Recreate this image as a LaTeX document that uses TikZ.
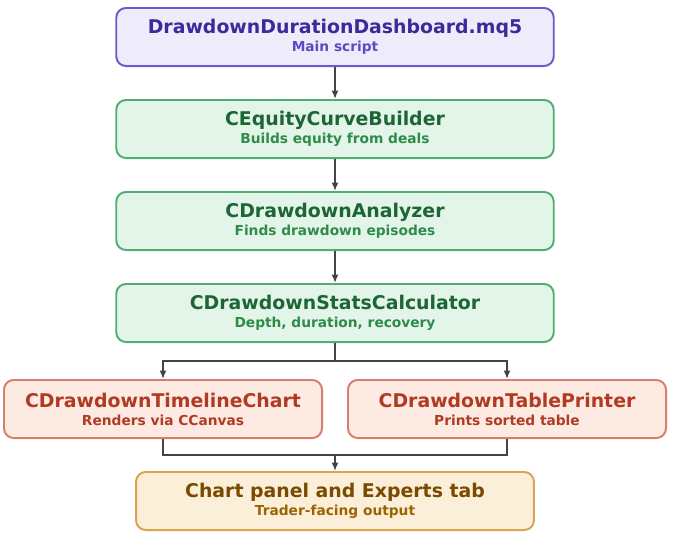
\documentclass[tikz,border=0pt]{standalone}
\usepackage{fontspec}
\setmainfont{DejaVu Sans}
\usetikzlibrary{arrows.meta,positioning,calc}
\definecolor{mainfill}{HTML}{EEEBFA}
\definecolor{maindraw}{HTML}{6A5ACD}
\definecolor{maintext}{HTML}{3A2A9A}
\definecolor{mainsub}{HTML}{5A4AC4}
\definecolor{corefill}{HTML}{E3F4E8}
\definecolor{coredraw}{HTML}{4FAF72}
\definecolor{coretext}{HTML}{1C6636}
\definecolor{coresub}{HTML}{2E8B4A}
\definecolor{outfill}{HTML}{FCEAE3}
\definecolor{outdraw}{HTML}{D97C68}
\definecolor{outtext}{HTML}{B03A22}
\definecolor{endfill}{HTML}{FCEFD9}
\definecolor{enddraw}{HTML}{D9A352}
\definecolor{endtext}{HTML}{7A4A00}
\definecolor{endsub}{HTML}{9A6400}
\definecolor{link}{HTML}{444444}
\tikzset{
  box/.style={draw, rounded corners=7pt, line width=1.4pt, minimum height=41.8pt, align=center, inner sep=0pt},
  mainbox/.style={box, fill=mainfill, draw=maindraw, minimum width=315pt},
  corebox/.style={box, fill=corefill, draw=coredraw, minimum width=315pt},
  outbox/.style={box, fill=outfill, draw=outdraw, minimum width=229pt},
  endbox/.style={box, fill=endfill, draw=enddraw, minimum width=286.5pt},
  arr/.style={draw=link, line width=1.4pt, -{Latex[length=6pt,width=5pt]}},
  ln/.style={draw=link, line width=1.4pt}
}
\newcommand{\boxtext}[4]{{\fontsize{13.6}{15}\selectfont\bfseries\color{#1}#3}\\[1pt]{\fontsize{9.9}{11}\selectfont\bfseries\color{#2}#4}}
\begin{document}
\begin{tikzpicture}[x=0.72pt,y=-0.72pt]
  \useasboundingbox (0,0) rectangle (675,537);
  % Pipeline
  \node[mainbox] (dash) at (335,37) {\boxtext{maintext}{mainsub}{DrawdownDurationDashboard.mq5}{Main script}};
  \node[corebox] (builder) at (335,129) {\boxtext{coretext}{coresub}{CEquityCurveBuilder}{Builds equity from deals}};
  \node[corebox] (analyzer) at (335,221) {\boxtext{coretext}{coresub}{CDrawdownAnalyzer}{Finds drawdown episodes}};
  \node[corebox] (stats) at (335,313) {\boxtext{coretext}{coresub}{CDrawdownStatsCalculator}{Depth, duration, recovery}};
  \node[outbox] (chart) at (163,409) {\boxtext{outtext}{outtext}{CDrawdownTimelineChart}{Renders via CCanvas}};
  \node[outbox] (table) at (507,409) {\boxtext{outtext}{outtext}{CDrawdownTablePrinter}{Prints sorted table}};
  \node[endbox] (panel) at (335,501) {\boxtext{endtext}{endsub}{Chart panel and Experts tab}{Trader-facing output}};

  \draw[arr] (dash) -- (builder);
  \draw[arr] (builder) -- (analyzer);
  \draw[arr] (analyzer) -- (stats);

  % Split and merge
  \coordinate (split) at (335,361);
  \coordinate (merge) at (335,455);
  \draw[ln] (stats) -- (split);
  \draw[arr] (split) -| (chart);
  \draw[arr] (split) -| (table);
  \draw[ln] (chart) |- (merge);
  \draw[ln] (table) |- (merge);
  \draw[arr] (merge) -- (panel);
\end{tikzpicture}
\end{document}
